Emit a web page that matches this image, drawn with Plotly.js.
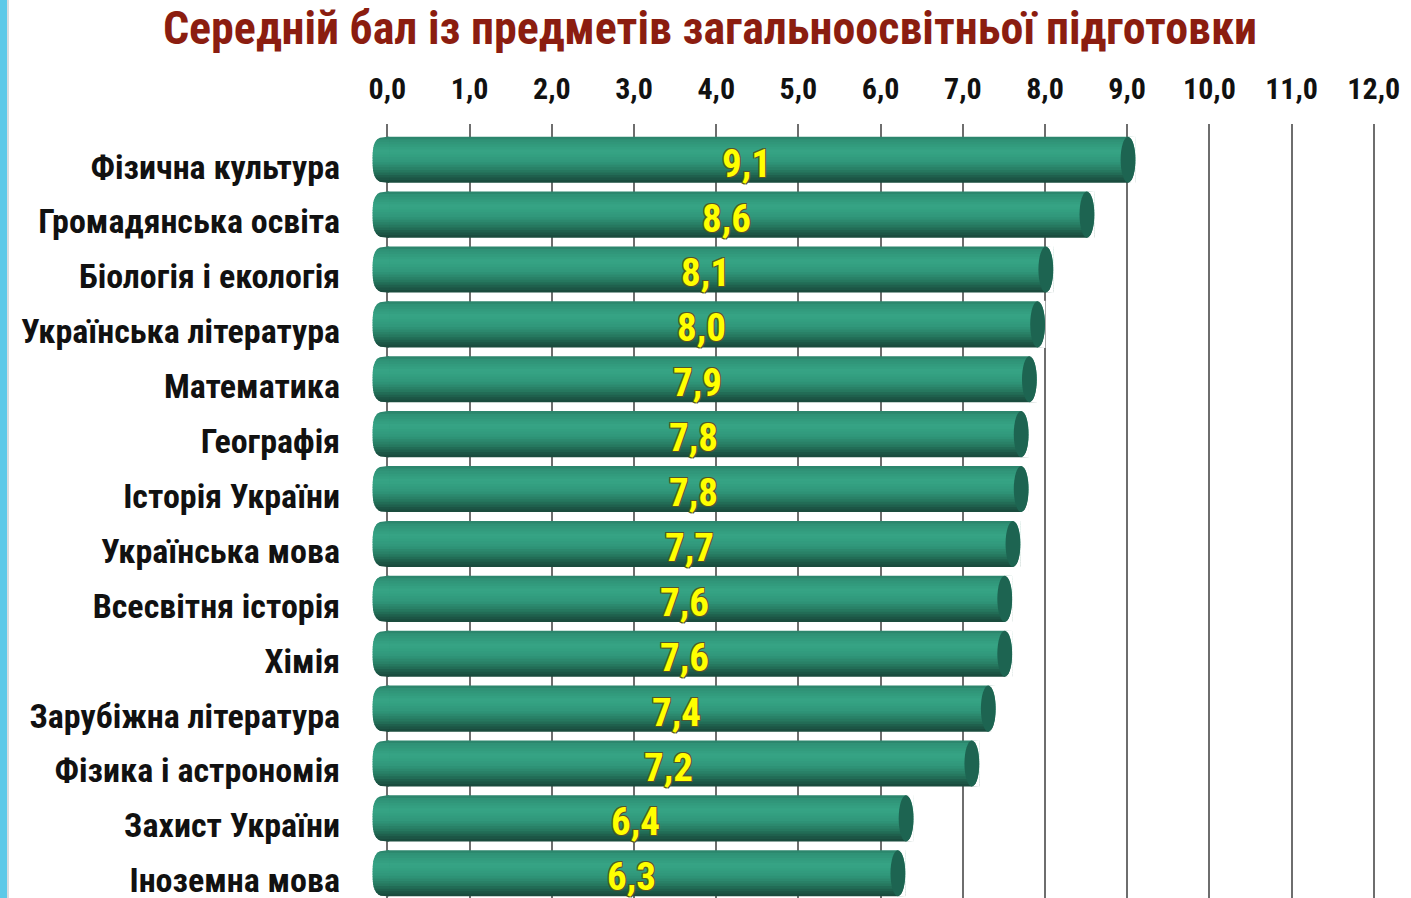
<!DOCTYPE html>
<html><head><meta charset="utf-8">
<script src="https://cdn.plot.ly/plotly-3.0.1.min.js"></script>
<style>html,body{margin:0;padding:0;background:#fff;overflow:hidden;} #chart{width:1411px;height:898px;}</style>
</head><body><div id="chart"></div>
<script>
// ---- data ----
const subjects = [
  'Фізична культура',
  'Громадянська освіта',
  'Біологія і екологія',
  'Українська література',
  'Математика',
  'Географія',
  'Історія України',
  'Українська мова',
  'Всесвітня історія',
  'Хімія',
  'Зарубіжна література',
  'Фізика і астрономія',
  'Захист України',
  'Іноземна мова'
];
const scores = [9.1, 8.6, 8.1, 8.0, 7.9, 7.8, 7.8, 7.7, 7.6, 7.6, 7.4, 7.2, 6.4, 6.3];
const tickValues = [0, 1, 2, 3, 4, 5, 6, 7, 8, 9, 10, 11, 12];
const tickLabels = ['0,0', '1,0', '2,0', '3,0', '4,0', '5,0', '6,0', '7,0', '8,0', '9,0', '10,0', '11,0', '12,0'];
const titleText = 'Середній бал із предметів загальноосвітньої підготовки';

// ---- style ----
const FONT = '"Roboto Condensed", "DejaVu Sans Condensed", sans-serif';
const W = 1411, H = 898;
const M = {l: 371, r: 29, t: 124, b: 0};
const plotW = W - M.l - M.r, plotH = H - M.t - M.b;
const HALF = 0.42;          // half bar thickness (category units)
const CAP = 0.18;           // right cap ellipse width (x units)
const LEFT = 0.18;          // left rounded end depth (x units)
const NSTRIP = 18;
const OVER = 0.03;          // strip overlap to hide seams

// vertical shading of the cylinder (t: 0 top -> 1 bottom)
const stops = [
  [0.00, [43, 128, 104]],
  [0.08, [47, 146, 118]],
  [0.32, [54, 164, 133]],
  [0.55, [48, 151, 122]],
  [0.75, [38, 120, 95]],
  [0.90, [28, 88, 71]],
  [1.00, [25, 72, 59]]
];
function shade(t) {
  for (let k = 1; k < stops.length; k++) {
    if (t <= stops[k][0]) {
      const [t0, c0] = stops[k - 1], [t1, c1] = stops[k];
      const f = (t - t0) / (t1 - t0);
      const c = c0.map((v, j) => Math.round(v + (c1[j] - v) * f));
      return 'rgb(' + c.join(',') + ')';
    }
  }
  return 'rgb(25,72,59)';
}
const strips = [];
const h = 2 * HALF / NSTRIP;
for (let k = 0; k < NSTRIP; k++) {
  strips.push({offset: -HALF + k * h, width: h + (k < NSTRIP - 1 ? OVER : 0), color: shade((k + 0.5) / NSTRIP)});
}
const idx = subjects.map((_, i) => i);

const traces = strips.map(s => ({
  type: 'bar', orientation: 'h',
  y: idx, x: scores,
  offset: s.offset, width: s.width,
  marker: {color: s.color, line: {width: 0}},
  hoverinfo: 'skip', showlegend: false
}));

const shapes = [];
// left strip decoration of the slide
shapes.push({type: 'rect', xref: 'paper', yref: 'paper',
  x0: -M.l / plotW, x1: -(M.l - 7) / plotW, y0: 0, y1: 1 + M.t / plotH,
  fillcolor: '#5cc9e8', line: {width: 0}, layer: 'above'});
shapes.push({type: 'rect', xref: 'paper', yref: 'paper',
  x0: -(M.l - 7) / plotW, x1: -(M.l - 9) / plotW, y0: 0, y1: 1 + M.t / plotH,
  fillcolor: '#d8dde0', line: {width: 0}, layer: 'above'});

// left rounded ends, shaded like the body
function leftX(u) { const p = 3; const a = Math.min(1, Math.abs(u)); return -LEFT * Math.pow(1 - Math.pow(a, p), 1 / p); }
idx.forEach(i => {
  strips.forEach(s => {
    const ya = i + s.offset, yb = Math.min(i + HALF, i + s.offset + s.width);
    const n = 4;
    let d = '';
    for (let q = 0; q <= n; q++) {
      const y = ya + (yb - ya) * q / n;
      const x = leftX((y - i) / HALF);
      d += (q === 0 ? 'M ' : ' L ') + x.toFixed(4) + ',' + y.toFixed(4);
    }
    d += ' L 0.02,' + yb.toFixed(4) + ' L 0.02,' + ya.toFixed(4) + ' Z';
    shapes.push({type: 'path', xref: 'x', yref: 'y', path: d,
      fillcolor: s.color, line: {width: 0}, layer: 'above'});
  });
});
// right ends: trim corners, then the dark elliptical cap
scores.forEach((v, i) => {
  const cx = v - CAP / 2, n = 16;
  let d = 'M ' + (v + 0.005) + ',' + (i - HALF - 0.01);
  for (let q = 0; q <= n; q++) {
    const y = i - HALF + 2 * HALF * q / n;
    const u = (y - i) / HALF;
    const x = cx + (CAP / 2) * Math.sqrt(Math.max(0, 1 - u * u));
    d += ' L ' + x.toFixed(4) + ',' + y.toFixed(4);
  }
  d += ' L ' + (v + 0.005) + ',' + (i + HALF + 0.01) + ' Z';
  shapes.push({type: 'path', xref: 'x', yref: 'y', path: d,
    fillcolor: '#ffffff', line: {width: 0}, layer: 'above'});
  shapes.push({type: 'circle', xref: 'x', yref: 'y',
    x0: v - CAP, x1: v, y0: i - HALF, y1: i + HALF,
    fillcolor: '#1d6451', line: {width: 0}, layer: 'above'});
});

const annotations = scores.map((v, i) => ({
  x: v / 2 - 0.18, y: i, xref: 'x', yref: 'y',
  text: v.toFixed(1).replace('.', ','), showarrow: false,
  yshift: -4,
  font: {family: FONT, size: 39, color: '#ffff00', weight: 'bold',
    shadow: '-1px -1px 0 #55552a, 1px -1px 0 #55552a, -1px 1px 0 #55552a, 1px 1px 0 #55552a'}
}));

const layout = {
  width: W, height: H,
  margin: M,
  paper_bgcolor: '#ffffff', plot_bgcolor: '#ffffff',
  barmode: 'overlay',
  title: {text: titleText, x: 710 / W, xref: 'container', xanchor: 'center',
    y: 1 - 28 / H, yref: 'container', yanchor: 'middle',
    font: {family: FONT, size: 46, color: '#8b1d10', weight: 'bold'}},
  xaxis: {
    side: 'top', range: [-0.2, 12.1],
    tickvals: tickValues, ticktext: tickLabels,
    showgrid: true, gridcolor: '#6e6e6e', gridwidth: 2,
    zeroline: false, showline: false, ticks: '',
    ticklabelstandoff: 18,
    tickfont: {family: FONT, size: 30, color: '#111111', weight: 'bold'},
    fixedrange: true
  },
  yaxis: {
    type: 'linear', range: [13.45, -0.65],
    tickvals: idx, ticktext: subjects,
    showgrid: false, zeroline: false, showline: false, ticks: '',
    ticklabelstandoff: 30, ticklabelshift: -7, ticklabeloverflow: 'allow',
    tickfont: {family: FONT, size: 34, color: '#111111', weight: 'bold'},
    fixedrange: true
  },
  shapes: shapes,
  annotations: annotations
};

Plotly.newPlot('chart', traces, layout, {displayModeBar: false, staticPlot: true});
</script>
</body></html>
